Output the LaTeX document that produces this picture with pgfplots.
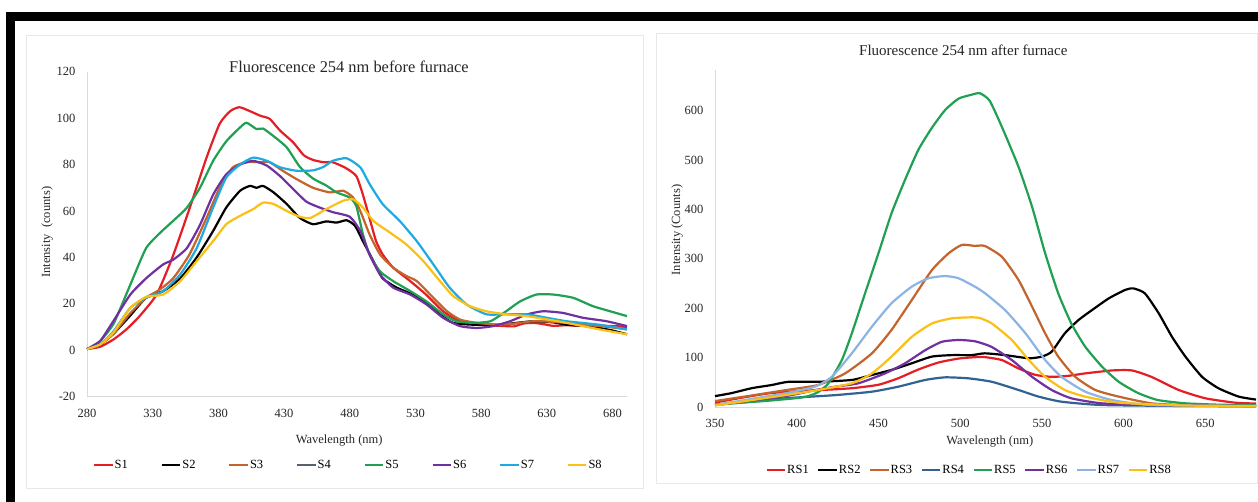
\documentclass[border=0pt]{standalone}
\usepackage{pgfplots}
\pgfplotsset{compat=1.18}
\usepackage{fontspec}
\setmainfont{Liberation Serif}
\definecolor{cRed}{RGB}{228,30,36}
\definecolor{cBrown}{RGB}{196,100,45}
\definecolor{cGray}{RGB}{88,98,110}
\definecolor{cSteel}{RGB}{50,98,148}
\definecolor{cGreen}{RGB}{32,160,82}
\definecolor{cPurple}{RGB}{112,48,160}
\definecolor{cSky}{RGB}{30,170,225}
\definecolor{cLight}{RGB}{140,180,226}
\definecolor{cYellow}{RGB}{250,192,20}
\definecolor{cAxis}{RGB}{217,217,217}
\pgfplotsset{
  mystyle/.style={
    scale only axis,
    axis lines=left,
    axis line style={-, draw=cAxis, line width=0.8pt},
    major tick length=0pt,
    tick style={draw=none},
    clip=false,
    /pgf/number format/assume math mode=true,
    ticklabel style={font=\fontsize{12.5}{14}\selectfont, text=black!85},
    label style={font=\fontsize{12.5}{14}\selectfont, text=black!85},
    title style={font=\fontsize{15}{17}\selectfont, text=black!85},
    every axis plot/.append style={line width=2.2pt, line join=round, smooth, tension=0.35},
    legend style={draw=none, fill=none, font=\fontsize{12.5}{14}\selectfont,
      nodes={inner sep=1pt}, legend columns=8},
    legend image code/.code={\draw[#1, line width=2.2pt, smooth=false] (0pt,0pt) -- (18.5pt,0pt);},
  }
}
\begin{document}
\begin{tikzpicture}[x=1pt,y=1pt]
\fill[white] (0,0) rectangle (1258,502);
\fill[black] (6,481) rectangle (1258,490);
\fill[black] (6,0) rectangle (15,490);
\draw[cAxis!60, line width=0.8pt] (26.7,14) rectangle (643,467);
\draw[cAxis!60, line width=0.8pt] (656,19) rectangle (1257.6,469);

\begin{axis}[mystyle,
  at={(87pt,105.3pt)}, anchor=south west, width=540pt, height=325pt,
  xmin=280, xmax=691, ymin=-20, ymax=120,
  xtick={280,330,...,680}, ytick={-20,0,...,120},
  xticklabel style={yshift=-9pt}, yticklabel style={xshift=-8pt},
  title={Fluorescence 254 nm before furnace},
  title style={at={(axis description cs:0.485,0.998)}, anchor=center, font=\fontsize{16.4}{18}\selectfont},
  xlabel={Wavelength (nm)},
  xlabel style={at={(axis description cs:0.467,-0.136)}, anchor=center},
  ylabel={Intensity\ \ (counts)},
  ylabel style={at={(axis description cs:-0.074,0.506)}, anchor=center},
  legend style={at={(axis description cs:0.483,-0.21)}, anchor=center,
    /tikz/every even column/.append style={column sep=31.8pt}},
]
\addplot[cRed] coordinates {(280,0.5)(290,1.5)(300,4.6)(310,9)(320,14.7)(333,24)(345,40)(358,61)(371,83)(381,97.6)(389,103)(396,104.7)(404,103)(412,101)(419,99.7)(427,94.6)(437,89.5)(445,84)(452,82)(460,81)(467,81)(477,78.5)(485,75)(490,67)(495,57)(500,47)(505,41.3)(513,35.6)(526,29.8)(538,24)(551,16.8)(561,13.3)(574,11.2)(585,10.8)(595,10.5)(605,10.3)(612,11.5)(620,11.8)(628,11.2)(635,10.5)(645,10.8)(655,10.5)(665,11)(675,10.5)(685,10.3)(691,9.8)};
\addlegendentry{S1}
\addplot[black] coordinates {(280,0.5)(290,2.5)(300,7)(313,15)(325,22.6)(338,25.5)(351,31)(363.5,40)(376,51.4)(386,61.5)(396.5,68.7)(404,70.8)(409,70)(414,70.8)(422,68)(432,63)(442,57)(452,54.3)(462,55.5)(470,55)(477.6,56)(484,53.6)(490,47)(498,38.4)(505,31)(515.7,27)(528,24)(538.5,20.4)(548.6,15.4)(558.6,11.8)(574,11)(594,11)(610,12)(620,12.5)(635,12)(645,11)(660,10.5)(670,9.6)(680,8.5)(691,6.9)};
\addlegendentry{S2}
\addplot[cBrown] coordinates {(280,0.5)(290,2.5)(300,7)(313,16)(325,22.6)(335,26)(345.6,31)(358,41.3)(371,57)(381,70)(391,78.8)(401.5,81)(412,81)(419,81)(429,77.3)(439.6,73.7)(452,70)(465,68)(475,68.7)(482.6,65.8)(488,60)(495,50)(503,41.3)(513,35.6)(523,32)(531,29.8)(543.6,22.6)(554,16.8)(564,13.2)(576.6,11.8)(594,11)(605,11.5)(619.6,12.5)(632,12.3)(645,11.8)(658,11)(670,10.4)(680,9.8)(691,9)};
\addlegendentry{S3}
\addlegendimage{cGray}
\addlegendentry{S4}
\addplot[cGreen] coordinates {(280,0.5)(290,3.9)(300,11.2)(307.6,21)(315,31)(325,44)(335.5,50.5)(348,57)(356,61.4)(366,70)(376,81.6)(386,90)(396.5,96)(401.5,98)(409,95.3)(414,95.5)(421.6,92.4)(432,87.4)(442,79)(452,74)(462,71)(470,68)(480,65.8)(485,62)(490,50)(495,41.3)(503,34)(513,29.8)(526,25.5)(538.5,21)(551,15.5)(561,12.5)(574,11.8)(587,12.5)(599,16.8)(609.5,21)(622,24)(635,24)(650,22.6)(665,19)(680,16.5)(691,14.7)};
\addlegendentry{S5}
\addplot[cPurple] coordinates {(280,0.5)(290,4)(300,12.5)(313,24)(325,31)(338,37)(345.6,39)(356,44)(366,54)(376,67)(386,75.8)(396.5,80)(406.5,81.6)(417,79.5)(427,75)(437,69.4)(447,64)(457,61.5)(467,59.5)(480,57.5)(488,51.4)(495,41.3)(503,32.7)(513,27)(526,24)(538.5,19.7)(551,14)(564,10.4)(576.6,9.6)(589,10.4)(602,12.5)(614.6,15.4)(627,16.8)(642,16.1)(657.5,14)(675.5,12.5)(691,10.4)};
\addlegendentry{S6}
\addplot[cSky] coordinates {(280,0.5)(290,2.5)(300,8)(313,18.3)(325,22.6)(338,25.5)(351,32.7)(363.5,44)(376,61.5)(386,74.4)(396.5,80)(406.5,83)(417,81.6)(427,78.8)(439.6,77.3)(452,77.5)(460,79)(467,81.6)(477.6,82.7)(488,78.8)(495,71.7)(505,63)(518,55.7)(531,47)(543.6,37)(556,27)(569,19.7)(584,15.5)(599,15.5)(614.6,15.5)(630,14)(645,12.5)(670,11)(691,9)};
\addlegendentry{S7}
\addplot[cYellow] coordinates {(280,0.5)(290,2.5)(300,7.5)(313,18.3)(325,23)(338,24)(351,29.8)(363.5,38.4)(376,47)(386,54.3)(396.5,57.9)(406.5,60.8)(414,63.6)(422,63)(432,60)(442,57.5)(450,57)(462,60.8)(475,64.4)(482.6,65)(490,61.5)(498,55.7)(510.6,50.7)(523,45.6)(536,38.4)(548.6,29.8)(558.8,23.3)(571.5,19)(584,16.8)(599,15.5)(614.6,14.7)(630,13.3)(645,11.8)(670,9)(691,6.9)};
\addlegendentry{S8}
\end{axis}

\begin{axis}[mystyle,
  at={(715pt,95pt)}, anchor=south west, width=541pt, height=337pt,
  xmin=350, xmax=681, ymin=0, ymax=682,
  xtick={350,400,...,650}, ytick={0,100,...,600},
  xticklabel style={yshift=-9pt}, yticklabel style={xshift=-8pt},
  title={Fluorescence 254 nm after furnace},
  title style={at={(axis description cs:0.459,1.041)}, anchor=center},
  xlabel={Wavelength (nm)},
  xlabel style={at={(axis description cs:0.508,-0.101)}, anchor=center},
  ylabel={Intensity (Counts)},
  ylabel style={at={(axis description cs:-0.07,0.525)}, anchor=center},
  legend style={at={(axis description cs:0.469,-0.187)}, anchor=center,
    /tikz/every even column/.append style={column sep=7.5pt}},
]
\addplot[cRed] coordinates {(350,9)(365,18)(383,27.7)(400,32)(413,34)(433.7,38)(450,45)(462,58)(474.5,76)(486.7,90)(499,98)(510,101)(515,101)(525.5,95)(535.7,78)(546,65)(556,61)(566,63)(576.5,68)(593,74)(605,74)(617,61)(633.7,34.4)(650,17.6)(668,8.8)(681,7)};
\addlegendentry{RS1}
\addplot[black] coordinates {(350,22)(360,28)(372.4,38)(384.7,44.5)(395,51)(413,51)(433.7,54.7)(446,64.8)(458,75)(470.4,88.5)(482.7,102)(495,105)(507,105)(515,108.6)(527.5,105)(542,98.6)(550,102)(556,112)(564,149)(572.4,176)(580.6,196)(591,220)(601,237)(606,240)(613,230)(621.4,190)(629.6,142)(637.8,102)(648,61)(658,38)(670.4,21)(681,15)};
\addlegendentry{RS2}
\addplot[cBrown] coordinates {(350,12)(370,22)(393,34)(413,44.5)(429.6,68)(446,108.6)(458,156)(470.4,216.6)(482.7,277)(492.9,311)(501,328)(509,326)(515,326)(525.5,304)(535.7,257)(544,203)(552,149)(560,102)(570.4,61)(582.7,34.4)(597,21)(617,7.4)(638,4)(681,3)};
\addlegendentry{RS3}
\addplot[cSteel] coordinates {(350,4)(393,17.6)(423.5,24)(446,31)(462,41)(478.6,54.7)(490.8,60)(505,58)(519.4,51)(535.7,34.4)(548,21)(562,10.7)(586.7,4)(638,2)(681,1.5)};
\addlegendentry{RS4}
\addplot[cGreen] coordinates {(350,5)(380,12)(400,18)(407,22)(413,30)(419.4,48)(427.6,95)(433.7,149)(441.8,230)(450,311)(458,392)(466.3,460)(474.5,521)(482.7,565)(490.8,601)(499,624)(507,632)(512,635)(518,620)(525.5,567)(535.7,486)(544,405)(552,311)(560,230)(568,169)(576.5,122)(586.7,82)(597,51)(609,28)(621,14)(638,7.4)(660,4.5)(681,4)};
\addlegendentry{RS5}
\addplot[cPurple] coordinates {(350,4)(393,22)(411,34)(423.5,41)(437.8,48)(454,68)(466.3,88.5)(478.6,115)(488.8,132)(499,135.6)(509,133)(519,122)(531.6,95)(544,61)(556,34.4)(568,17.6)(586.7,7.4)(617,4)(681,2)};
\addlegendentry{RS6}
\addplot[cLight] coordinates {(350,4)(393,27.7)(411,41)(421.4,61)(433.7,108.6)(446,162.6)(458,210)(470.4,243.5)(480.6,260.5)(490.8,265)(499,260.5)(509,243.5)(515.3,230)(527.5,196)(540,149)(552,95)(562,61)(576.5,31)(593,14)(617,4)(681,2)};
\addlegendentry{RS7}
\addplot[cYellow] coordinates {(350,3)(393,24)(413,34.4)(433.7,48)(446,68)(458,102)(470.4,142)(482.7,169)(495,179.5)(507,181.5)(512,180)(519.4,169)(531.6,135.6)(542,95)(552,61)(564,34.4)(576.5,21)(597,8.8)(638,3)(681,2)};
\addlegendentry{RS8}
\end{axis}
\end{tikzpicture}
\end{document}
